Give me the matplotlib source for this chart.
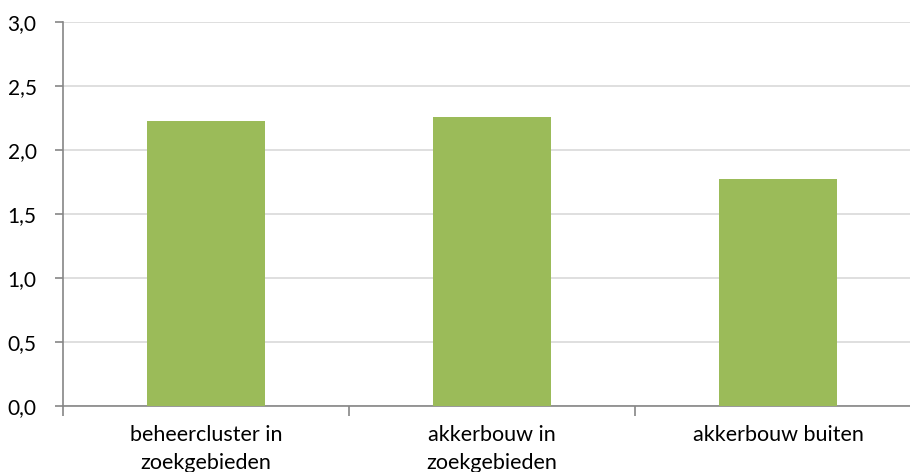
import matplotlib.pyplot as plt
from matplotlib.ticker import FixedLocator, FuncFormatter

categories = ["beheercluster in\nzoekgebieden", "akkerbouw in\nzoekgebieden", "akkerbouw buiten"]
values = [2.23, 2.26, 1.77]
yticks = [0.0, 0.5, 1.0, 1.5, 2.0, 2.5, 3.0]

plt.rcParams['font.family'] = ['Lato', 'DejaVu Sans']

fig = plt.figure(figsize=(9.10, 4.72), dpi=100)
ax = fig.add_axes([63 / 910, 1 - 406 / 472, 858 / 910, 384 / 472])

x = list(range(len(categories)))
ax.bar(x, values, width=0.41, color="#9BBB59", zorder=3)

ax.set_xlim(-0.5, len(categories) - 0.5)
ax.set_ylim(0, 3.0)
ax.set_yticks(yticks)
ax.yaxis.set_major_formatter(FuncFormatter(lambda v, p: f"{v:.1f}".replace(".", ",")))
ax.grid(axis="y", color="#D9D9D9", linewidth=1.2, zorder=0)

# category labels centered, ticks on category boundaries
ax.set_xticks(x)
ax.set_xticklabels(categories, fontsize=15.5, color="#000000", linespacing=1.5)
ax.tick_params(axis="x", which="major", length=0, pad=14)
ax.xaxis.set_minor_locator(FixedLocator([-0.5, 0.5, 1.5, 2.5]))
ax.tick_params(axis="x", which="minor", length=7, width=1.2, color="#868686")
ax.tick_params(axis="y", length=6, width=1.2, color="#868686", labelsize=15,
               labelcolor="#000000", pad=13)

for side in ("top", "right"):
    ax.spines[side].set_visible(False)
for side in ("left", "bottom"):
    ax.spines[side].set_color("#868686")
    ax.spines[side].set_linewidth(1.2)

fig.savefig("out.png", dpi=100)
